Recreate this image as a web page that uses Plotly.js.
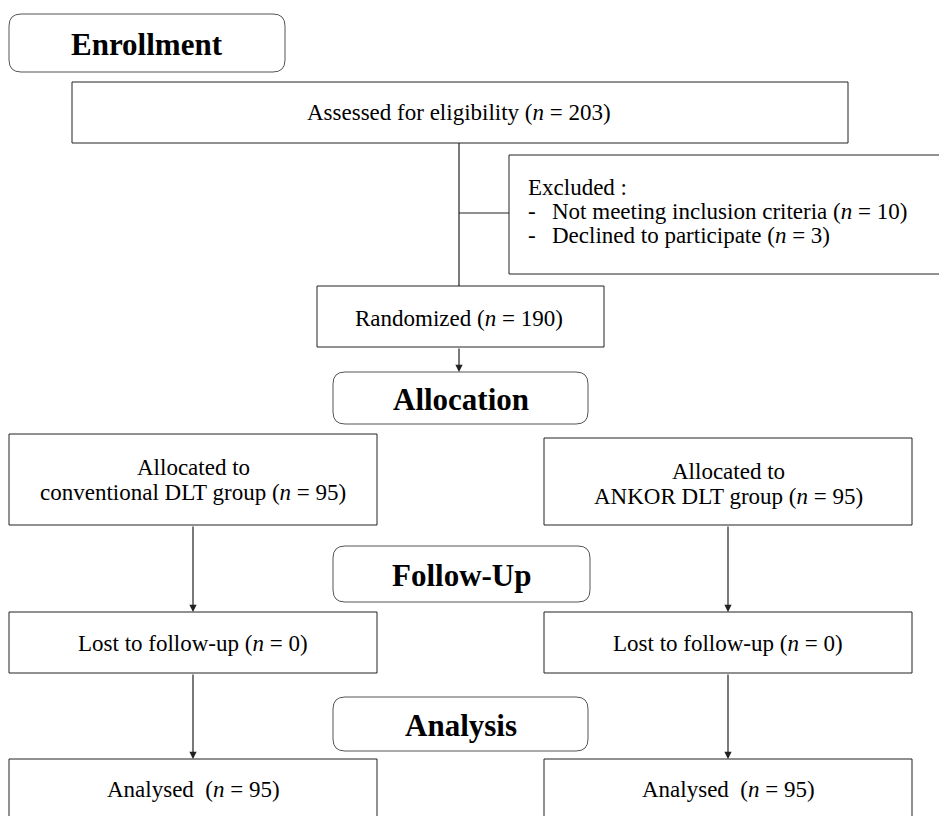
<!DOCTYPE html>
<html>
<head>
<meta charset="utf-8">
<script src="https://cdn.plot.ly/plotly-3.0.1.min.js"></script>
<style>html,body{margin:0;padding:0;background:#fff;}#chart{width:939px;height:816px;}</style>
</head>
<body>
<div id="chart"></div>
<script>
// ---- Data ----
const stageTitles = ['Enrollment', 'Allocation', 'Follow-Up', 'Analysis'];
const assessedN = 203;
const excludedReasons = ['Not meeting inclusion criteria', 'Declined to participate'];
const excludedN = [10, 3];
const randomizedN = 190;
const groupNames = ['conventional DLT group', 'ANKOR DLT group'];
const allocatedN = [95, 95];
const lostN = [0, 0];
const analysedN = [95, 95];

// ---- Geometry (pixel layout, y downward) ----
const W = 939, H = 816;
const stageBoxes = [
  {x0: 9, x1: 285, y0: 14, y1: 72},
  {x0: 333, x1: 588, y0: 372, y1: 424},
  {x0: 333, x1: 590, y0: 546, y1: 602},
  {x0: 333, x1: 588, y0: 697, y1: 751}
];
const assessedBox = {x0: 72, x1: 848, y0: 82, y1: 143};
const excludedBox = {x0: 509, x1: 960, y0: 155, y1: 274};
const randomBox = {x0: 317, x1: 604, y0: 286, y1: 347};
const colX = [[9, 377], [544, 912]];
const allocRows = [{y0: 434, y1: 525}, {y0: 438, y1: 525}];
const lostRow = {y0: 612, y1: 673};
const analysedRow = {y0: 759, y1: 840};

const serif = 'Liberation Serif';
const bodyFont = {family: serif, size: 23, color: '#000'};
const headFont = {family: serif, size: 31, color: '#000', weight: 'bold'};
const lineCol = '#222';

const shapes = [];
const annotations = [];

function rect(b, col) {
  shapes.push({type: 'rect', xref: 'x', yref: 'y', x0: b.x0, x1: b.x1, y0: b.y0, y1: b.y1,
    line: {color: col || lineCol, width: 1}, fillcolor: 'rgba(0,0,0,0)', layer: 'above'});
}
function rrect(b, r) {
  const {x0, x1, y0, y1} = b;
  const p = `M${x0 + r},${y0} L${x1 - r},${y0} Q${x1},${y0} ${x1},${y0 + r} L${x1},${y1 - r} Q${x1},${y1} ${x1 - r},${y1} ` +
            `L${x0 + r},${y1} Q${x0},${y1} ${x0},${y1 - r} L${x0},${y0 + r} Q${x0},${y0} ${x0 + r},${y0} Z`;
  shapes.push({type: 'path', xref: 'x', yref: 'y', path: p, line: {color: '#555', width: 1}, layer: 'above'});
}
function line(xa, ya, xb, yb) {
  shapes.push({type: 'line', xref: 'x', yref: 'y', x0: xa, y0: ya, x1: xb, y1: yb, line: {color: lineCol, width: 1.2}});
}
function arrow(xa, ya, xb, yb) {
  annotations.push({x: xb, y: yb, ax: xa, ay: ya, xref: 'x', yref: 'y', axref: 'x', ayref: 'y',
    text: '', showarrow: true, arrowhead: 2, arrowsize: 1.2, arrowwidth: 1.2, arrowcolor: lineCol, standoff: 0});
}
function text(x, y, t, font, opts) {
  annotations.push(Object.assign({x: x, y: y, xref: 'x', yref: 'y', text: t, showarrow: false, font: font,
    xanchor: 'center', yanchor: 'middle'}, opts || {}));
}
const nEq = v => `(<i>n</i> = ${v})`;

// stage headers
stageBoxes.forEach((b, i) => {
  rrect(b, 12);
  text((b.x0 + b.x1) / 2, (b.y0 + b.y1) / 2 + 1, stageTitles[i], headFont);
});

// assessed
rect(assessedBox);
const midX = 459;
text(midX, 112, `Assessed for eligibility ${nEq(assessedN)}`, bodyFont);
line(midX, assessedBox.y1, midX, randomBox.y0);
line(midX, 213, excludedBox.x0, 213);

// excluded
rect(excludedBox);
text(526, 187, 'Excluded :', bodyFont, {xanchor: 'left'});
excludedReasons.forEach((r, i) => {
  const y = 211 + 24 * i;
  text(526, y, '-', bodyFont, {xanchor: 'left'});
  text(550, y, `${r} ${nEq(excludedN[i])}`, bodyFont, {xanchor: 'left'});
});

// randomized
rect(randomBox);
text(midX, 318, `Randomized ${nEq(randomizedN)}`, bodyFont);
arrow(midX, randomBox.y1, midX, stageBoxes[1].y0);

// group columns
groupNames.forEach((g, i) => {
  const [x0, x1] = colX[i];
  const cx = i === 0 ? 193 : 728;
  const ar = allocRows[i];
  rect({x0, x1, y0: ar.y0, y1: ar.y1});
  text(cx, ar.y0 + 33, 'Allocated to', bodyFont);
  text(cx, ar.y0 + 58, `${g} ${nEq(allocatedN[i])}`, bodyFont);
  arrow(cx, ar.y1, cx, lostRow.y0);

  rect({x0, x1, y0: lostRow.y0, y1: lostRow.y1});
  text(cx, 643, `Lost to follow-up ${nEq(lostN[i])}`, bodyFont);
  arrow(cx, lostRow.y1, cx, analysedRow.y0);

  rect({x0, x1, y0: analysedRow.y0, y1: analysedRow.y1});
  text(cx, 789, `Analysed&nbsp; ${nEq(analysedN[i])}`, bodyFont);
});

const layout = {
  width: W, height: H,
  margin: {l: 0, r: 0, t: 0, b: 0, pad: 0},
  paper_bgcolor: '#fff', plot_bgcolor: '#fff',
  showlegend: false,
  xaxis: {range: [0, W], visible: false, fixedrange: true},
  yaxis: {range: [H, 0], visible: false, fixedrange: true},
  shapes: shapes,
  annotations: annotations
};
Plotly.newPlot('chart', [], layout, {displayModeBar: false, staticPlot: true});
</script>
</body>
</html>
